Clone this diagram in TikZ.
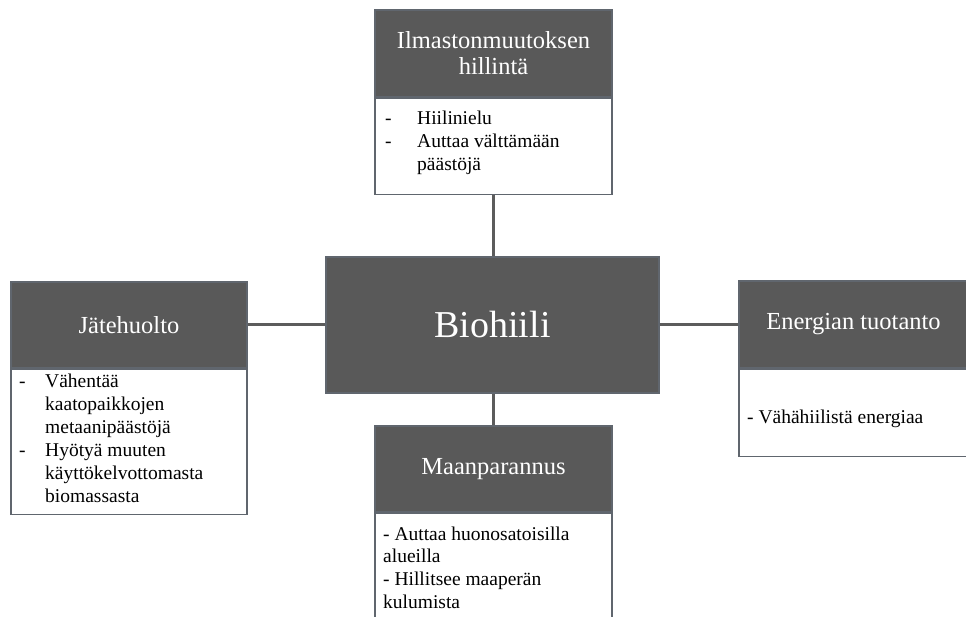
\documentclass[tikz,border=0pt]{standalone}
\usepackage{fontspec}
\setmainfont{Liberation Serif}
\usepackage{xcolor}
\definecolor{headgray}{RGB}{89,89,89}
\definecolor{framegray}{RGB}{96,102,110}
\definecolor{linkgray}{RGB}{92,92,92}

\begin{document}
\begin{tikzpicture}[x=1pt,y=1pt,yscale=-1,xscale=1,
    headbox/.style={draw=framegray,fill=headgray,line width=1.2pt,text=white,align=center,inner sep=0pt,font=\fontsize{24.5}{26}\selectfont},
    listbox/.style={draw=framegray,fill=white,line width=1.2pt,inner sep=0pt,anchor=north},
    listtext/.style={anchor=base west,inner sep=0pt,font=\fontsize{19.5}{22.8}\selectfont},
    link/.style={draw=linkgray,line width=3pt}]
        \useasboundingbox (0,0) rectangle (966,617);
        %Shape: Rectangle (centre)
        \node[headbox,minimum width=333pt,minimum height=136pt,font=\fontsize{38}{40}\selectfont] (biochar) at (492.5,325) {Biohiili};
        %Shape: Rectangle (top)
        \node[headbox,minimum width=237pt,minimum height=87pt] (climhead) at (493.5,53.5) {Ilmastonmuutoksen\\hillintä};
        \node[listbox,minimum width=237pt,minimum height=96pt] (climlist) at (climhead.south) {};
        %Shape: Rectangle (left)
        \node[headbox,minimum width=236pt,minimum height=86pt] (wastehead) at (129,325) {Jätehuolto};
        \node[listbox,minimum width=236pt,minimum height=145pt] (wastelist) at (wastehead.south) {};
        %Shape: Rectangle (right)
        \node[headbox,minimum width=229pt,minimum height=87pt] (energyhead) at (853.5,324.5) {Energian tuotanto};
        \node[listbox,minimum width=229pt,minimum height=87pt] (energylist) at (energyhead.south) {};
        %Shape: Rectangle (bottom)
        \node[headbox,minimum width=237pt,minimum height=86pt] (soilhead) at (493.5,469) {Maanparannus};
        \node[listbox,minimum width=237pt,minimum height=120pt] (soillist) at (soilhead.south) {};
        %Straight Lines
        \draw[link] (climlist.south) -- (climlist.south |- biochar.north);
        \draw[link] (soilhead.north |- biochar.south) -- (soilhead.north);
        \draw[link] (wastehead.east) -- (wastehead.east -| biochar.west);
        \draw[link] (biochar.east) -- (biochar.east -| energyhead.west);
        % Text Node
        \node[listtext] (climtext) at (385,125) {\begin{tabular}[t]{@{}p{32pt}@{}l@{}}-&Hiilinielu\\-&Auttaa välttämään\\&päästöjä\end{tabular}};
        % Text Node
        \node[listtext] (wastetext) at (19,388) {\begin{tabular}[t]{@{}p{26pt}@{}l@{}}-&Vähentää\\&kaatopaikkojen\\&metaanipäästöjä\\-&Hyötyä muuten\\&käyttökelvottomasta\\&biomassasta\end{tabular}};
        % Text Node
        \node[listtext] (energytext) at (747,423) {- Vähähiilistä energiaa};
        % Text Node
        \node[listtext] (soiltext) at (383,540) {\begin{tabular}[t]{@{}l@{}}- Auttaa huonosatoisilla\\alueilla\\- Hillitsee maaperän\\kulumista\end{tabular}};
\end{tikzpicture}
\end{document}
